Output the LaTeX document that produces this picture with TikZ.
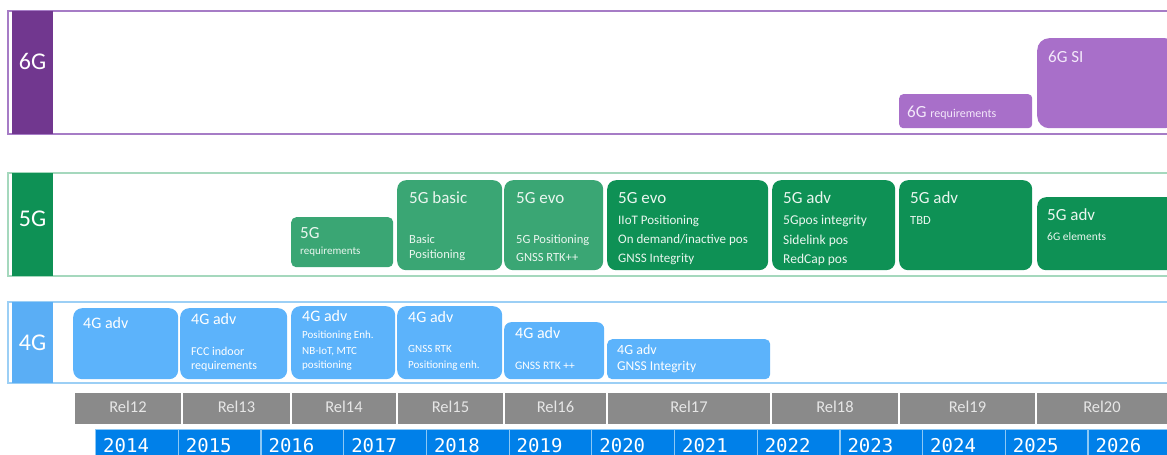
\documentclass[tikz,border=0pt]{standalone}
\usepackage{fontspec}
\setmainfont{Carlito}
\newfontfamily\yearfont{DejaVu Sans Mono}
\newcommand\pxsize[1]{\fontsize{#1}{#1}\selectfont}

\definecolor{violetdark}{HTML}{71378F}
\definecolor{violetbox}{HTML}{A86FC9}
\definecolor{violetline}{HTML}{A67CC6}
\definecolor{violettext}{HTML}{F3E8FA}
\definecolor{greendark}{HTML}{0E9155}
\definecolor{greenlight}{HTML}{3AA674}
\definecolor{greenline}{HTML}{A5D8BD}
\definecolor{greentext}{HTML}{EAF6EF}
\definecolor{bluetile}{HTML}{5AAEF5}
\definecolor{bluebox}{HTML}{5CB3FB}
\definecolor{blueline}{HTML}{9CCFF5}
\definecolor{relgray}{HTML}{8A8A8A}
\definecolor{relwhite}{HTML}{E6E6E6}
\definecolor{yearblue}{HTML}{0080E9}
\definecolor{yearline}{HTML}{8CC8F5}

\begin{document}
\begin{tikzpicture}[x=1pt, y=-1pt,
    stage/.style={anchor=north west, rounded corners=9pt, inner sep=0pt},
    tile/.style={anchor=north west, inner sep=0pt, minimum width=41pt},
    gen/.style={anchor=base, inner sep=0pt, text=white, font=\pxsize{24}},
    head/.style={anchor=base west, inner sep=0pt, font=\pxsize{17}},
    note/.style={anchor=base west, inner sep=0pt, font=\pxsize{12.5}},
    band/.style={line width=1.2pt},
    relcell/.style={fill=relgray, inner sep=0pt, minimum height=31pt},
    reltext/.style={anchor=base, inner sep=0pt, text=relwhite, font=\pxsize{16.5}},
    yearcell/.style={anchor=north west, fill=yearblue, draw=yearline, line width=1.2pt,
        minimum width=82.7pt, minimum height=40pt, inner sep=0pt},
    yeartext/.style={anchor=base west, inner sep=0pt, text=white, font=\yearfont\pxsize{19}}]

    \clip (0,0) rectangle (1167,455);

    % First, the three generation bands with their tiles on the left
        \draw [band, draw=violetline] (8,11) rectangle (1180,134);
        \draw [band, draw=greenline] (8,173) rectangle (1180,276);
        \draw [band, draw=blueline] (8,302) rectangle (1180,383);
        \node [tile, fill=violetdark, minimum height=123] (tile6) at (12,11) {};
        \node [tile, fill=greendark, minimum height=103] (tile5) at (12,173) {};
        \node [tile, fill=bluetile, minimum height=81] (tile4) at (12,302) {};
        \node [gen] (gen6) at (32.5,69) {6G};
        \node [gen] (gen5) at (32.5,226) {5G};
        \node [gen] (gen4) at (32.5,350) {4G};

    % 6G boxes
        \node [stage, fill=violetbox, minimum width=133, minimum height=34, rounded corners=4pt] (req6) at (899,94) {};
        \node [head, text=violettext] (req6t) at (907,117) {6G {\pxsize{12}requirements}};
        \node [stage, fill=violetbox, minimum width=140, minimum height=90, rounded corners=12pt] (si6) at (1037,38) {};
        \node [head, text=violettext] (si6t) at (1048,62) {6G SI};

    % 5G boxes
        \node [stage, fill=greenlight, minimum width=102, minimum height=50, rounded corners=5pt] (req5) at (291,217) {};
        \node [head, text=greentext] (req5t) at (300,238) {5G};
        \node [note, text=greentext, font=\pxsize{11}] (req5a) at (300,254) {requirements};

        \node [stage, fill=greenlight, minimum width=105, minimum height=90] (basic5) at (397,180) {};
        \node [head, text=greentext] (basic5t) at (409,203) {5G basic};
        \node [note, text=greentext] (basic5a) at (409,243) {Basic};
        \node [note, text=greentext] (basic5b) at (409,258) {Positioning};

        \node [stage, fill=greenlight, minimum width=99, minimum height=90] (evo5) at (504,180) {};
        \node [head, text=greentext] (evo5t) at (516,203) {5G evo};
        \node [note, text=greentext] (evo5a) at (516,243) {5G Positioning};
        \node [note, text=greentext] (evo5b) at (516,261) {GNSS RTK++};

        \node [stage, fill=greendark, minimum width=161, minimum height=90] (evo5x) at (607,180) {};
        \node [head, text=greentext] (evo5xt) at (618,203) {5G evo};
        \node [note, text=greentext, font=\pxsize{13}] (evo5xa) at (618,224) {IIoT Positioning};
        \node [note, text=greentext, font=\pxsize{13}] (evo5xb) at (618,243) {On demand/inactive pos};
        \node [note, text=greentext, font=\pxsize{13}] (evo5xc) at (618,262) {GNSS Integrity};

        \node [stage, fill=greendark, minimum width=123, minimum height=90] (adv5) at (772,180) {};
        \node [head, text=greentext] (adv5t) at (783,203) {5G adv};
        \node [note, text=greentext, font=\pxsize{13.5}] (adv5a) at (783,224) {5Gpos integrity};
        \node [note, text=greentext, font=\pxsize{13.5}] (adv5b) at (783,244) {Sidelink pos};
        \node [note, text=greentext, font=\pxsize{13.5}] (adv5c) at (783,263) {RedCap pos};

        \node [stage, fill=greendark, minimum width=133, minimum height=90] (tbd5) at (899,180) {};
        \node [head, text=greentext] (tbd5t) at (910,203) {5G adv};
        \node [note, text=greentext] (tbd5a) at (910,224) {TBD};

        \node [stage, fill=greendark, minimum width=140, minimum height=73] (elem5) at (1037,197) {};
        \node [head, text=greentext] (elem5t) at (1047,220) {5G adv};
        \node [note, text=greentext, font=\pxsize{11.5}] (elem5a) at (1047,240) {6G elements};

    % 4G boxes
        \node [stage, fill=bluebox, minimum width=105, minimum height=71] (adv4a) at (73,308) {};
        \node [head, text=white, font=\pxsize{16}] (adv4at) at (83,328) {4G adv};

        \node [stage, fill=bluebox, minimum width=107, minimum height=71] (adv4b) at (180,308) {};
        \node [head, text=white, font=\pxsize{16}] (adv4bt) at (191,324) {4G adv};
        \node [note, text=white, font=\pxsize{12}] (adv4ba) at (191,355) {FCC indoor};
        \node [note, text=white, font=\pxsize{12}] (adv4bb) at (191,369) {requirements};

        \node [stage, fill=bluebox, minimum width=104, minimum height=73] (adv4c) at (291,306) {};
        \node [head, text=white, font=\pxsize{16}] (adv4ct) at (302,321) {4G adv};
        \node [note, text=white, font=\pxsize{11}] (adv4ca) at (302,338) {Positioning Enh.};
        \node [note, text=white, font=\pxsize{11}] (adv4cb) at (302,354) {NB-IoT, MTC};
        \node [note, text=white, font=\pxsize{11}] (adv4cc) at (302,368) {positioning};

        \node [stage, fill=bluebox, minimum width=105, minimum height=73] (adv4d) at (397,306) {};
        \node [head, text=white, font=\pxsize{16}] (adv4dt) at (408,322) {4G adv};
        \node [note, text=white, font=\pxsize{11}] (adv4da) at (408,352) {GNSS RTK};
        \node [note, text=white, font=\pxsize{11}] (adv4db) at (408,368) {Positioning enh.};

        \node [stage, fill=bluebox, minimum width=100, minimum height=57, rounded corners=7pt] (adv4e) at (504,322) {};
        \node [head, text=white, font=\pxsize{16}] (adv4et) at (515,338) {4G adv};
        \node [note, text=white, font=\pxsize{11.5}] (adv4ea) at (515,369) {GNSS RTK ++};

        \node [stage, fill=bluebox, minimum width=163, minimum height=40, rounded corners=5pt] (adv4f) at (607,339) {};
        \node [head, text=white, font=\pxsize{14}] (adv4ft) at (617,354) {4G adv};
        \node [note, text=white, font=\pxsize{13.5}] (adv4fa) at (617,370) {GNSS Integrity};

    % Now the release bar and the years under it
        \foreach \a/\b/\rel in {75/181/Rel12, 183/290/Rel13, 292/396/Rel14, 398/503/Rel15,
                505/606/Rel16, 608/770/Rel17, 772/898/Rel18, 900/1035/Rel19, 1037/1167/Rel20} {
            \node [relcell, minimum width={\b-\a}] (\rel) at ({(\a+\b)/2},408.5) {};
            \node [reltext] (\rel t) at ({(\a+\b)/2},412) {\rel};
        }
        \foreach \yr [count=\i from 0] in {2014,...,2026} {
            \node [yearcell] (y\yr) at (95+82.7*\i,429) {};
            \node [yeartext] (y\yr t) at (103+82.7*\i,452) {\yr};
        }
    \end{tikzpicture}
\end{document}
